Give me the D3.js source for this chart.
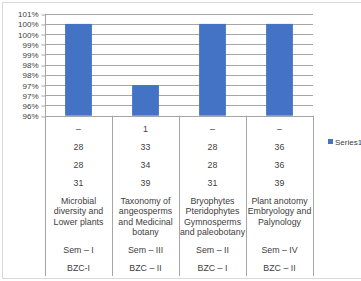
<!DOCTYPE html>
<html>
<head>
<meta charset="utf-8">
<script src="https://cdn.jsdelivr.net/npm/d3@7"></script>
<style>
    body { margin: 0; background: #fff; }
    text { font-family: "Liberation Sans", Arial, sans-serif; fill: #404040; }
</style>
</head>
<body>
<div id="chart"></div>
<script>
// chart data
const seriesName = "Series1";
const values = [1.00, 0.97, 1.00, 1.00];
const yTicks = [1.005, 1.0, 0.995, 0.99, 0.985, 0.98, 0.975, 0.97, 0.965, 0.96, 0.955];
const yTickLabels = ["101%", "100%", "100%", "99%", "99%", "98%", "98%", "97%", "97%", "96%", "96%"];

// data table rows under the bars
const rowA = ["–", "1", "–", "–"];
const rowB = ["28", "33", "28", "36"];
const rowC = ["28", "34", "28", "36"];
const rowD = ["31", "39", "31", "39"];
const courses = [
    ["Microbial", "diversity and", "Lower plants"],
    ["Taxonomy of", "angeosperms", "and Medicinal", "botany"],
    ["Bryophytes", "Pteridophytes", "Gymnosperms", "and paleobotany"],
    ["Plant anotomy", "Embryology and", "Palynology"]
];
const semesters = ["Sem – I", "Sem – III", "Sem – II", "Sem – IV"];
const groups = ["BZC-I", "BZC – II", "BZC – I", "BZC – II"];

class DataTableChart {
    constructor(selector) {
        this.selector = selector;
        this.width = 361;
        this.height = 281;
        this.plot = { left: 45, right: 313, top: 13.7, bottom: 115.7, tableBottom: 276 };
        this.barColor = "#4472C4";
    }

    createCanvas() {
        const svg = d3.select(this.selector).append("svg")
            .attr("width", this.width)
            .attr("height", this.height);

        // outer chart border (right edge falls just outside the picture)
        svg.append("rect")
            .attr("x", 2.5).attr("y", 2.5)
            .attr("width", 362).attr("height", 276)
            .attr("fill", "#fff")
            .attr("stroke", "#d9d9d9");
        return svg;
    }

    build() {
        const svg = this.createCanvas();
        const p = this.plot;
        const idx = d3.range(values.length);

        const x = d3.scaleBand()
            .domain(idx)
            .range([p.left, p.right])
            .paddingInner(0.6)
            .paddingOuter(0.3);
        const cols = d3.scaleBand().domain(idx).range([p.left, p.right]);

        const y = d3.scaleLinear()
            .domain([0.955, 1.005])
            .range([p.bottom, p.top]);

        // gridlines
        svg.append("g")
            .selectAll("line")
            .data(yTicks)
            .enter().append("line")
            .attr("x1", p.left).attr("x2", p.right)
            .attr("y1", d => Math.round(y(d)) + 0.5)
            .attr("y2", d => Math.round(y(d)) + 0.5)
            .attr("stroke", "#a6a6a6");

        // y axis
        const yAxis = svg.append("g")
            .attr("transform", "translate(" + (p.left + 0.5) + ",0.5)")
            .call(d3.axisLeft(y)
                .tickValues(yTicks)
                .tickFormat((d, i) => yTickLabels[i])
                .tickSize(4)
                .tickPadding(3));
        yAxis.select(".domain").remove();
        yAxis.selectAll("line").attr("stroke", "#a6a6a6")
            .attr("transform", d => "translate(0," + (Math.round(y(d)) - y(d)) + ")");
        yAxis.selectAll("text")
            .style("font-size", "8px")
            .attr("fill", "#404040");

        // bars
        svg.selectAll(".bar")
            .data(values)
            .enter().append("rect")
            .attr("class", "bar")
            .attr("x", (d, i) => x(i))
            .attr("width", x.bandwidth())
            .attr("y", d => y(d))
            .attr("height", d => p.bottom - y(d))
            .attr("fill", this.barColor);

        // table column lines
        svg.append("g")
            .selectAll("line")
            .data(idx.concat([values.length]))
            .enter().append("line")
            .attr("x1", i => Math.round(i < values.length ? cols(i) : p.right) + 0.5)
            .attr("x2", i => Math.round(i < values.length ? cols(i) : p.right) + 0.5)
            .attr("y1", i => i === 0 ? p.top : p.bottom)
            .attr("y2", p.tableBottom)
            .attr("stroke", "#a6a6a6");

        // table text
        const rows = [[rowA, 131.5], [rowB, 150], [rowC, 168], [rowD, 185.5],
                      [semesters, 252.5], [groups, 271]];
        const cx = i => cols(i) + cols.bandwidth() / 2;
        for (const [row, yy] of rows) {
            svg.append("g")
                .selectAll("text")
                .data(row)
                .enter().append("text")
                .attr("x", (d, i) => cx(i))
                .attr("y", yy)
                .attr("text-anchor", "middle")
                .style("font-size", "8.8px")
                .text(d => d);
        }
        courses.forEach((lines, i) => {
            svg.append("text")
                .attr("text-anchor", "middle")
                .style("font-size", "8.8px")
                .selectAll("tspan")
                .data(lines)
                .enter().append("tspan")
                .attr("x", cx(i))
                .attr("y", (d, j) => 203.5 + j * 10.6)
                .text(d => d);
        });

        // legend
        svg.append("rect")
            .attr("x", 328).attr("y", 139)
            .attr("width", 5).attr("height", 5)
            .attr("fill", this.barColor);
        svg.append("text")
            .attr("x", 335).attr("y", 145)
            .style("font-size", "8px")
            .text(seriesName);
    }
}

new DataTableChart("#chart").build();
</script>
</body>
</html>
